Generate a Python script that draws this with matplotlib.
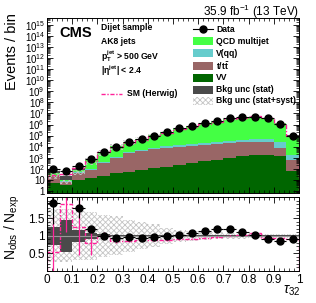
import numpy as np
import matplotlib
matplotlib.use("Agg")
import matplotlib.pyplot as plt
from matplotlib.patches import Rectangle
from matplotlib.lines import Line2D
from matplotlib.ticker import FixedLocator, FuncFormatter, MultipleLocator, LogLocator, NullFormatter

plt.rcParams['font.family'] = ['Liberation Sans', 'DejaVu Sans']
plt.rcParams['mathtext.fontset'] = 'custom'
plt.rcParams['mathtext.rm'] = 'Liberation Sans'
plt.rcParams['mathtext.it'] = 'Liberation Sans:italic'
plt.rcParams['mathtext.bf'] = 'Liberation Sans:bold'
plt.rcParams['hatch.linewidth'] = 0.6

# ---------------- data ----------------
tau32_edges = [0.0, 0.05, 0.10, 0.15, 0.20, 0.25, 0.30, 0.35, 0.40, 0.45, 0.50,
               0.55, 0.60, 0.65, 0.70, 0.75, 0.80, 0.85, 0.90, 0.95, 1.0]
data_counts = [98, 63, 160, 730, 3300, 1.0e4, 2.5e4, 4.7e4, 1.0e5, 2.0e5, 4.6e5,
               7.4e5, 1.3e6, 2.2e6, 3.6e6, 4.6e6, 5.1e6, 3.6e6, 1.1e6, 9.3e4]
vv = [5, 3, 10, 15, 20, 40, 55, 80, 110, 150, 220, 330, 450, 630, 900, 1300,
      1800, 1800, 1500, 56]
ttbar = [15, 3, 30, 64, 300, 960, 2450, 3900, 5500, 6900, 8700, 10900, 13700,
         17200, 19000, 22700, 24500, 24500, 6400, 575]
vqq = [3, 1, 5, 15, 60, 250, 700, 1300, 2200, 3200, 4500, 6300, 8000, 10500,
       13000, 16000, 19000, 21000, 17000, 1200]
qcd = [28, 9, 44, 514, 2950, 9280, 22600, 44700, 95300, 1.94e5, 4.38e5, 6.61e5,
       1.12e6, 1.805e6, 2.97e6, 4.10e6, 5.0e6, 3.87e6, 1.27e6, 9.93e4]
stat_rel = [0.25, 0.45, 0.17, 0.08, 0.04, 0.03, 0.025, 0.02, 0.02, 0.02, 0.02,
            0.02, 0.02, 0.02, 0.02, 0.02, 0.02, 0.02, 0.02, 0.02]
syst_rel = [0.75, 0.75, 0.7, 0.68, 0.6, 0.55, 0.45, 0.38, 0.32, 0.22, 0.17, 0.14,
            0.12, 0.1, 0.09, 0.08, 0.07, 0.06, 0.06, 0.06]
data_ratio_err = [0.6, 0.0, 0.3, 0.08, 0.03, 0.02, 0.015, 0.01, 0.01, 0.01, 0.01,
                  0.01, 0.01, 0.01, 0.01, 0.01, 0.01, 0.01, 0.01, 0.01]
herwig_ratio = [0.55, 1.9, 1.25, 0.8, 1.0, 0.85, 0.85, 0.87, 0.88, 0.88, 0.9, 0.92,
                0.95, 0.97, 1.0, 1.03, 1.07, 0.95, 0.93, 0.92]
herwig_ratio_err = [1.0, 0.8, 0.8, 0.35, 0.1, 0.05, 0.03, 0.02, 0.02, 0.02, 0.02,
                    0.02, 0.02, 0.02, 0.02, 0.02, 0.02, 0.02, 0.02, 0.02]

edges = np.array(tau32_edges)
centers = 0.5 * (edges[1:] + edges[:-1])
halfw = 0.5 * (edges[1:] - edges[:-1])
data_arr = np.array(data_counts, float)
comps = [np.array(vv, float), np.array(ttbar, float), np.array(vqq, float), np.array(qcd, float)]
total = sum(comps)
stat_a = np.array(stat_rel)
syst_a = np.array(syst_rel)

c_qcd = '#44ff44'
c_vqq = '#66cccc'
c_tt = '#996666'
c_vv = '#006600'
c_stat = '#4a4a4a'
c_hw = '#ff2299'
c_hatch = '#c4c4c4'
hw_ls = (0, (3, 1.2, 1, 1.2))

W, H = 316, 303
fig = plt.figure(figsize=(W / 100, H / 100), dpi=100)

def fx(px):
    return px / W

def fy(py):
    return 1 - py / H

ax = fig.add_axes([fx(47), fy(193), fx(299) - fx(47), fy(18) - fy(193)])
axr = fig.add_axes([fx(47), fy(271), fx(299) - fx(47), fy(197) - fy(271)])

# ---------------- main panel ----------------
ax.set_yscale('log')
ymin, ymax = 0.62, 4.5e15
cum = np.full(len(total), 1e-3)
for vals, col in zip(comps, [c_vv, c_tt, c_vqq, c_qcd]):
    top = cum + vals
    ax.stairs(top, edges, baseline=cum, fill=True, color=col, lw=0)
    cum = top

ax.stairs(total * (1 + syst_a), edges, baseline=total * (1 - syst_a), fill=True,
          facecolor='none', edgecolor=c_hatch, hatch='xxxxxx', lw=0)
ax.stairs(total * (1 + stat_a), edges, baseline=total * (1 - stat_a),
          fill=True, color=c_stat, lw=0)
ax.stairs(total * np.array(herwig_ratio), edges, color=c_hw, lw=1.0, linestyle=hw_ls)
ax.errorbar(centers, data_arr, xerr=halfw, yerr=np.sqrt(data_arr), fmt='o', color='black',
            ms=5.0, lw=0.8, capsize=0)
ax.set_xlim(0, 1)
ax.set_ylim(ymin, ymax)

def logfmt(v, pos):
    n = int(round(np.log10(v)))
    if n == 0:
        return '1'
    if n == 1:
        return '10'
    return r'$10^{%d}$' % n

ax.yaxis.set_major_locator(FixedLocator([10.0 ** k for k in range(0, 16)]))
ax.yaxis.set_major_formatter(FuncFormatter(logfmt))
ax.yaxis.set_minor_locator(LogLocator(base=10, subs=np.arange(2, 10), numticks=100))
ax.yaxis.set_minor_formatter(NullFormatter())
ax.xaxis.set_major_locator(MultipleLocator(0.1))
ax.xaxis.set_minor_locator(MultipleLocator(0.02))
ax.tick_params(axis='both', which='both', direction='in', top=True, right=True, labelsize=7.0)
ax.tick_params(which='major', length=4.5, width=0.6)
ax.tick_params(which='minor', length=2.2, width=0.5)
ax.tick_params(axis='x', labelbottom=False)
ax.tick_params(axis='y', pad=1.5)
for s in ax.spines.values():
    s.set_linewidth(0.7)

# ---------------- ratio panel ----------------
axr.stairs(1 + syst_a, edges, baseline=1 - syst_a, fill=True,
           facecolor='none', edgecolor=c_hatch, hatch='xxxxxx', lw=0)
axr.stairs(1 + stat_a, edges, baseline=1 - stat_a, fill=True, color=c_stat, lw=0)
axr.axhline(1.0, color='#999999', lw=0.8)
axr.stairs(np.array(herwig_ratio), edges, color=c_hw, lw=1.0, linestyle=hw_ls)
axr.errorbar(centers, herwig_ratio, yerr=herwig_ratio_err, fmt='none', ecolor=c_hw,
             lw=0.9, linestyle=':', capsize=0)
ratio = data_arr / total
axr.errorbar(centers, ratio, xerr=halfw, yerr=data_ratio_err, fmt='o', color='black',
             ms=5.0, lw=0.8, capsize=0)
axr.set_xlim(0, 1)
axr.set_ylim(0, 2.1)
axr.xaxis.set_major_locator(MultipleLocator(0.1))
axr.xaxis.set_minor_locator(MultipleLocator(0.02))
axr.yaxis.set_major_locator(FixedLocator([0.5, 1.0, 1.5]))
axr.yaxis.set_minor_locator(MultipleLocator(0.1))
axr.xaxis.set_major_formatter(FuncFormatter(lambda v, p: '%g' % round(v, 2)))
axr.yaxis.set_major_formatter(FuncFormatter(lambda v, p: '%g' % v))
axr.tick_params(axis='both', which='both', direction='in', top=True, right=True, labelsize=8.5)
axr.tick_params(which='major', length=4.5, width=0.6)
axr.tick_params(which='minor', length=2.2, width=0.5)
axr.tick_params(axis='y', pad=1.5)
axr.tick_params(axis='x', pad=2.5)
for s in axr.spines.values():
    s.set_linewidth(0.7)

# ---------------- texts ----------------
fig.text(fx(12), fy(13), 'Events / bin', rotation=90, ha='center', va='top', fontsize=10.5)
fig.text(fx(12), fy(227), r'N$_{\mathrm{obs}}$ / N$_{\mathrm{exp}}$', rotation=90,
         ha='center', va='center', fontsize=10)
fig.text(fx(300), fy(284), r'$\tau_{32}$', ha='right', va='top', fontsize=10)
fig.text(fx(299), fy(3), r'35.9 fb$^{-1}$ (13 TeV)', ha='right', va='top', fontsize=8.5)
fig.text(fx(59), fy(33), 'CMS', ha='left', va='center', fontsize=10.5, fontweight='bold')

txt_kw = dict(ha='left', va='center', fontsize=6.2, fontweight='bold')
fig.text(fx(101), fy(27), 'Dijet sample', **txt_kw)
fig.text(fx(101), fy(41), 'AK8 jets', **txt_kw)
fig.text(fx(101), fy(56), r'$\mathbf{p_T^{jet}}$ > 500 GeV', **txt_kw)
fig.text(fx(101), fy(71), r'$\mathbf{|\eta^{jet}|}$ < 2.4', **txt_kw)
fig.add_artist(Line2D([fx(101), fx(122)], [fy(94), fy(94)], color=c_hw, lw=1.0,
                      linestyle=hw_ls, transform=fig.transFigure))
fig.text(fx(127), fy(94), 'SM (Herwig)', **txt_kw)

rows_y = [29, 41, 53, 66, 78, 90, 101]
labels = ['Data', 'QCD multijet', 'V(qq)', r'$\mathbf{t/t\bar{t}}$', 'VV',
          'Bkg unc (stat)', 'Bkg unc (stat+syst)']
swatch_cols = [None, c_qcd, c_vqq, c_tt, c_vv, c_stat, None]
hx0, hx1 = 193, 213
for i, (yy, lab) in enumerate(zip(rows_y, labels)):
    if i == 0:
        fig.add_artist(Line2D([fx(hx0), fx(hx1)], [fy(yy), fy(yy)], color='black', lw=0.8,
                              transform=fig.transFigure))
        fig.add_artist(Line2D([fx((hx0 + hx1) / 2)], [fy(yy)], color='black', marker='o',
                              ms=5.0, transform=fig.transFigure))
    else:
        col = swatch_cols[i]
        if col is None:
            r = Rectangle((fx(hx0), fy(yy + 4)), fx(hx1) - fx(hx0), fy(yy - 4) - fy(yy + 4),
                          transform=fig.transFigure, facecolor='none', edgecolor=c_hatch,
                          hatch='xxxxxx', lw=0)
        else:
            r = Rectangle((fx(hx0), fy(yy + 4)), fx(hx1) - fx(hx0), fy(yy - 4) - fy(yy + 4),
                          transform=fig.transFigure, facecolor=col, lw=0)
        fig.add_artist(r)
    fig.text(fx(216), fy(yy), lab, **txt_kw)

fig.savefig('out.png', dpi=100)
